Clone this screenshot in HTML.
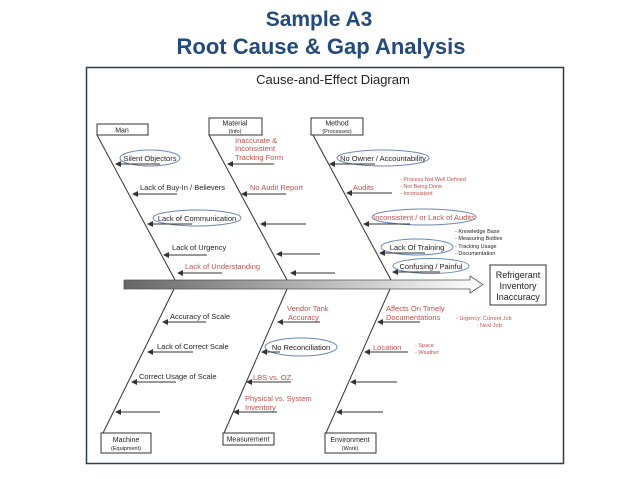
<!DOCTYPE html>
<html><head><meta charset="utf-8"><style>
html,body{margin:0;padding:0;background:#fff;}
svg{display:block;font-family:"Liberation Sans",Arial,sans-serif;}
.k{fill:#222;font-size:7.5px}
.r{fill:#c0504d;font-size:7.5px}
.n{fill:#c0504d;font-size:5.5px}
.nk{fill:#222;font-size:5.5px}
.b{fill:#fff;stroke:#333;stroke-width:1}
.d{stroke:#333;stroke-width:1;fill:none}
.a{stroke:#333;stroke-width:1;marker-start:url(#ah)}
.e{fill:none;stroke:#6a86b8;stroke-width:1}
</style></head><body>
<svg width="638" height="479" viewBox="0 0 638 479">
<defs>
<marker id="ah" markerWidth="6" markerHeight="6" refX="1" refY="3" orient="auto"><path d="M6,0 L0,3 L6,6 z" fill="#333"/></marker>
<linearGradient id="g" x1="0" x2="1"><stop offset="0" stop-color="#666"/><stop offset="1" stop-color="#fff"/></linearGradient>
</defs>
<text x="319" y="26" text-anchor="middle" font-size="21" font-weight="bold" fill="#234a7a">Sample A3</text>
<text x="321" y="54" text-anchor="middle" font-size="22" font-weight="bold" fill="#234a7a">Root Cause &amp; Gap Analysis</text>
<rect x="86.5" y="67.5" width="477" height="396" fill="#fff" stroke="#2c3e55" stroke-width="1.5"/>
<text x="333" y="84" text-anchor="middle" font-size="13" fill="#222">Cause-and-Effect Diagram</text>
<!-- spine -->
<path d="M124,280 L470,280 L470,276 L483,284.5 L470,293 L470,289 L124,289 Z" fill="url(#g)" stroke="#555" stroke-width="0.8"/>
<!-- effect -->
<rect class="b" x="490" y="265" width="56" height="40" stroke-width="1.5"/>
<text x="518" y="278" text-anchor="middle" font-size="9" fill="#222">Refrigerant</text>
<text x="518" y="289" text-anchor="middle" font-size="9" fill="#222">Inventory</text>
<text x="518" y="300" text-anchor="middle" font-size="9" fill="#222">Inaccuracy</text>
<!-- diagonals -->
<line class="d" x1="97" y1="135" x2="175" y2="280"/>
<line class="d" x1="209" y1="135" x2="287" y2="280"/>
<line class="d" x1="313" y1="135" x2="391" y2="280"/>
<line class="d" x1="103" y1="433" x2="174" y2="289"/>
<line class="d" x1="224" y1="433" x2="287" y2="289"/>
<line class="d" x1="326" y1="433" x2="390" y2="289"/>
<!-- boxes -->
<rect class="b" x="97" y="124" width="51" height="11"/><text x="122" y="132.5" text-anchor="middle" font-size="7" fill="#222">Man</text>
<rect class="b" x="209" y="118" width="53" height="17"/><text x="235" y="125.5" text-anchor="middle" font-size="7" fill="#222">Material</text><text x="235" y="133" text-anchor="middle" font-size="5.5" fill="#222">(Info)</text>
<rect class="b" x="311" y="118" width="52" height="17"/><text x="337" y="125.5" text-anchor="middle" font-size="7" fill="#222">Method</text><text x="337" y="133" text-anchor="middle" font-size="5.5" fill="#222">(Processes)</text>
<rect class="b" x="101" y="433" width="50" height="20"/><text x="126" y="442" text-anchor="middle" font-size="7" fill="#222">Machine</text><text x="126" y="450" text-anchor="middle" font-size="5.5" fill="#222">(Equipment)</text>
<rect class="b" x="223" y="433" width="51" height="12"/><text x="248" y="441.5" text-anchor="middle" font-size="7" fill="#222">Measurement</text>
<rect class="b" x="325" y="433" width="51" height="20"/><text x="350" y="442" text-anchor="middle" font-size="7" fill="#222">Environment</text><text x="350" y="450" text-anchor="middle" font-size="5.5" fill="#222">(Work)</text>
<!-- Man -->
<ellipse class="e" cx="150" cy="158" rx="30" ry="8"/><text class="k" x="150" y="161" text-anchor="middle">Silent Objectors</text>
<line class="a" x1="116" y1="164" x2="160" y2="164"/>
<text class="k" x="140" y="190">Lack of Buy-In  / Believers</text>
<line class="a" x1="133" y1="194" x2="177" y2="194"/>
<ellipse class="e" cx="197" cy="218" rx="44" ry="8"/><text class="k" x="197" y="221" text-anchor="middle">Lack of Communication</text>
<line class="a" x1="148" y1="224" x2="192" y2="224"/>
<text class="k" x="172" y="250">Lack of Urgency</text>
<line class="a" x1="164" y1="255" x2="207" y2="255"/>
<text class="r" x="185" y="269">Lack of Understanding</text>
<line class="a" x1="178" y1="273" x2="222" y2="273"/>
<!-- Material -->
<text class="r" x="235" y="143">Inaccurate &amp;</text><text class="r" x="235" y="151">Inconsistent</text><text class="r" x="235" y="160">Tracking Form</text>
<line class="a" x1="228" y1="164" x2="274" y2="164"/>
<text class="r" x="250" y="190">No Audit Report</text>
<line class="a" x1="242" y1="194" x2="286" y2="194"/>
<line class="a" x1="261" y1="224" x2="306" y2="224"/>
<line class="a" x1="277" y1="254" x2="320" y2="254"/>
<line class="a" x1="291" y1="273" x2="335" y2="273"/>
<!-- Method -->
<ellipse class="e" cx="383" cy="158" rx="46" ry="8"/><text class="k" x="383" y="161" text-anchor="middle">No Owner / Accountability</text>
<line class="a" x1="330" y1="164" x2="375" y2="164"/>
<text class="r" x="353" y="190">Audits</text>
<line class="a" x1="347" y1="193" x2="392" y2="193"/>
<text class="n" x="400" y="181">- Process Not Well Defined</text><text class="n" x="400" y="188">- Not Being Done</text><text class="n" x="400" y="195">- Inconsistent</text>
<ellipse class="e" cx="424" cy="217" rx="52" ry="8"/><text class="r" x="424" y="220" text-anchor="middle">Inconsistent / or Lack of Audits</text>
<line class="a" x1="364" y1="224" x2="410" y2="224"/>
<ellipse class="e" cx="417" cy="247" rx="36" ry="8"/><text class="k" x="417" y="250" text-anchor="middle">Lack Of Training</text>
<line class="a" x1="380" y1="253" x2="425" y2="253"/>
<text class="nk" x="455" y="233">- Knowledge Base</text><text class="nk" x="455" y="240">- Measuring Bottles</text><text class="nk" x="455" y="248">- Tracking Usage</text><text class="nk" x="455" y="255">- Documentation</text>
<ellipse class="e" cx="431" cy="266" rx="38" ry="7.5"/><text class="k" x="431" y="269" text-anchor="middle">Confusing / Painful</text>
<line class="a" x1="393" y1="272" x2="440" y2="272"/>
<!-- Machine -->
<text class="k" x="170" y="319">Accuracy of Scale</text>
<line class="a" x1="163" y1="322" x2="206" y2="322"/>
<text class="k" x="157" y="349">Lack of Correct Scale</text>
<line class="a" x1="148" y1="352" x2="193" y2="352"/>
<text class="k" x="139" y="379">Correct Usage  of Scale</text>
<line class="a" x1="132" y1="382" x2="176" y2="382"/>
<line class="a" x1="116" y1="412" x2="160" y2="412"/>
<!-- Measurement -->
<text class="r" x="287" y="311">Vendor Tank</text><text class="r" x="288" y="320">Accuracy</text>
<line class="a" x1="278" y1="322" x2="320" y2="322"/>
<ellipse class="e" cx="301" cy="347" rx="36" ry="9"/><text class="k" x="301" y="350" text-anchor="middle">No Reconciliation</text>
<line class="a" x1="262" y1="352" x2="280" y2="352"/>
<text class="r" x="253" y="380">LBS  vs. OZ.</text>
<line class="a" x1="247" y1="382" x2="291" y2="382"/>
<text class="r" x="245" y="401">Physical vs. System</text><text class="r" x="245" y="410">Inventory</text>
<line class="a" x1="234" y1="412" x2="277" y2="412"/>
<!-- Environment -->
<text class="r" x="386" y="311">Affects On Timely</text><text class="r" x="386" y="320">Documentations</text>
<line class="a" x1="378" y1="322" x2="420" y2="322"/>
<text class="n" x="456" y="320">- Urgency: Current Job</text><text class="n" x="477" y="327">: Next Job</text>
<text class="r" x="373" y="350">Location</text>
<line class="a" x1="365" y1="352" x2="408" y2="352"/>
<text class="n" x="415" y="347">- Space</text><text class="n" x="415" y="354">- Weather</text>
<line class="a" x1="351" y1="382" x2="397" y2="382"/>
<line class="a" x1="337" y1="412" x2="383" y2="412"/>
</svg>
</body></html>
